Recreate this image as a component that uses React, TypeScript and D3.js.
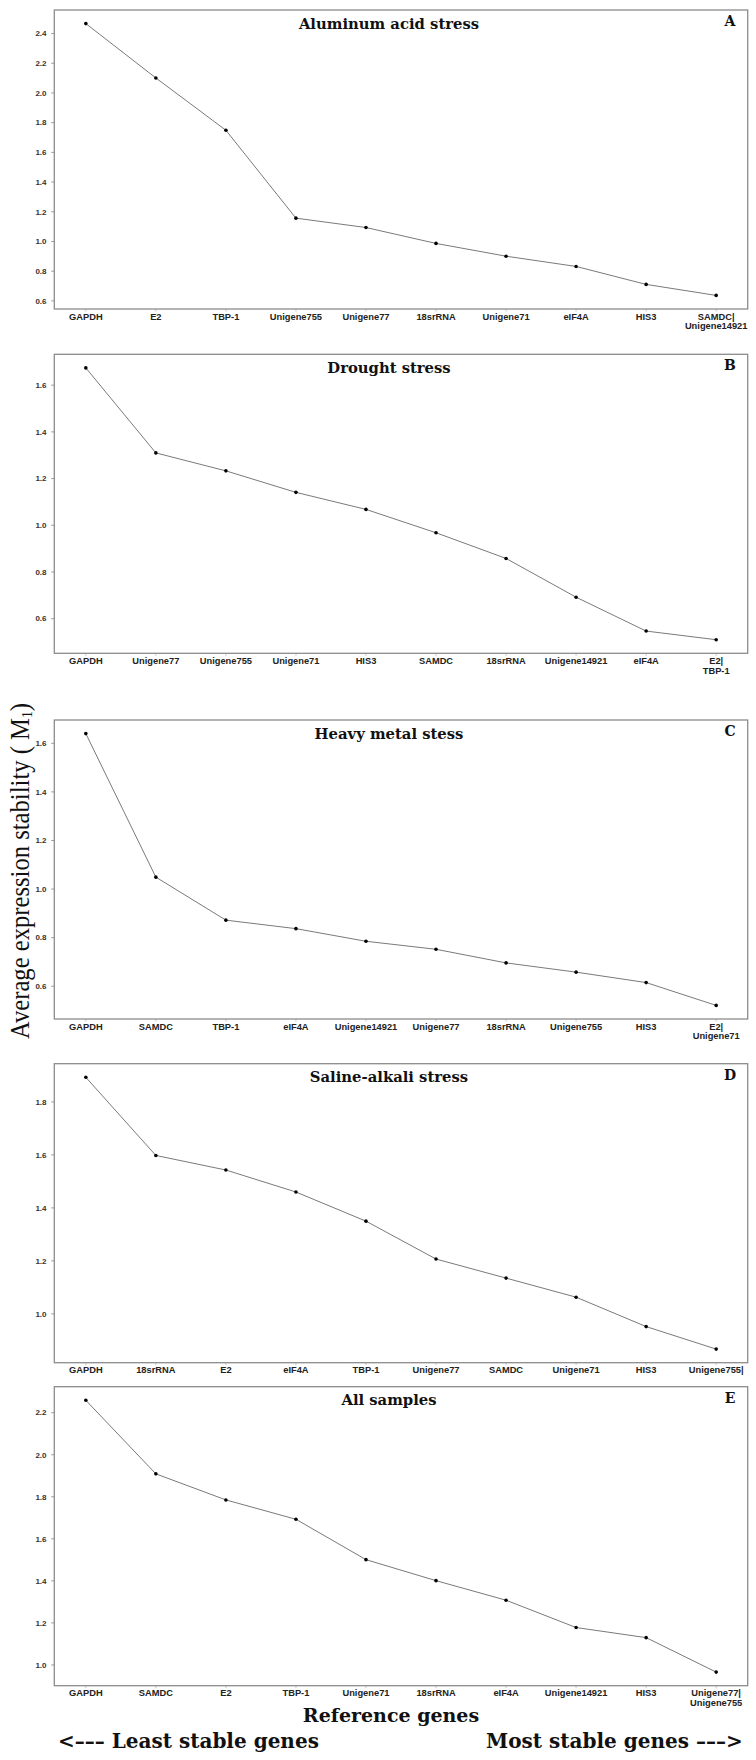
import * as d3 from 'd3';

// Reference gene ranking (geNorm M values), one panel per stress condition
const genesA = ['GAPDH', 'E2', 'TBP-1', 'Unigene755', 'Unigene77', '18srRNA', 'Unigene71', 'eIF4A', 'HIS3', 'SAMDC|\nUnigene14921'];
const valuesA = [2.467, 2.101, 1.749, 1.157, 1.094, 0.987, 0.901, 0.832, 0.711, 0.637];
const ticksA = [0.6, 0.8, 1.0, 1.2, 1.4, 1.6, 1.8, 2.0, 2.2, 2.4];

const genesB = ['GAPDH', 'Unigene77', 'Unigene755', 'Unigene71', 'HIS3', 'SAMDC', '18srRNA', 'Unigene14921', 'eIF4A', 'E2|\nTBP-1'];
const valuesB = [1.674, 1.31, 1.233, 1.141, 1.068, 0.968, 0.858, 0.692, 0.547, 0.51];
const ticksB = [0.6, 0.8, 1.0, 1.2, 1.4, 1.6];

const genesC = ['GAPDH', 'SAMDC', 'TBP-1', 'eIF4A', 'Unigene14921', 'Unigene77', '18srRNA', 'Unigene755', 'HIS3', 'E2|\nUnigene71'];
const valuesC = [1.64, 1.049, 0.872, 0.837, 0.785, 0.752, 0.696, 0.658, 0.615, 0.521];
const ticksC = [0.6, 0.8, 1.0, 1.2, 1.4, 1.6];

const genesD = ['GAPDH', '18srRNA', 'E2', 'eIF4A', 'TBP-1', 'Unigene77', 'SAMDC', 'Unigene71', 'HIS3', 'Unigene755|'];
const valuesD = [1.893, 1.598, 1.543, 1.46, 1.35, 1.207, 1.135, 1.063, 0.952, 0.867];
const ticksD = [1.0, 1.2, 1.4, 1.6, 1.8];

const genesE = ['GAPDH', 'SAMDC', 'E2', 'TBP-1', 'Unigene71', '18srRNA', 'eIF4A', 'Unigene14921', 'HIS3', 'Unigene77|\nUnigene755'];
const valuesE = [2.259, 1.909, 1.785, 1.693, 1.501, 1.401, 1.308, 1.178, 1.13, 0.966];
const ticksE = [1.0, 1.2, 1.4, 1.6, 1.8, 2.0, 2.2];

const titles = ['Aluminum acid stress', 'Drought stress', 'Heavy metal stess', 'Saline-alkali stress', 'All samples'];
const letters = ['A', 'B', 'C', 'D', 'E'];

const panels = [
  { genes: genesA, values: valuesA, ticks: ticksA },
  { genes: genesB, values: valuesB, ticks: ticksB },
  { genes: genesC, values: valuesC, ticks: ticksC },
  { genes: genesD, values: valuesD, ticks: ticksD },
  { genes: genesE, values: valuesE, ticks: ticksE },
];

const W = 756;
const H = 1760;
const left = 54.3;
const right = 747.7;
const panelH = 299;
const panelTops = [10, 354.3, 720, 1063.7, 1386.7];

const serif = '"DejaVu Serif", "Liberation Serif", serif';
const sans = '"Liberation Sans", Arial, sans-serif';
const fmt = d3.format('.1f');

function Panel({ idx }: { idx: number }) {
  const { genes, values, ticks } = panels[idx];
  const top = panelTops[idx];
  const bottom = top + panelH;

  const x = d3.scalePoint<string>().domain(genes).range([left, right]).padding(0.45);
  // ggplot style 5% expansion of the data range
  const [lo, hi] = d3.extent(values) as [number, number];
  const pad = (hi - lo) * 0.05;
  const y = d3.scaleLinear().domain([lo - pad, hi + pad]).range([bottom, top]);

  const pts = genes.map((g, i) => [x(g) as number, y(values[i])] as [number, number]);
  const line = d3.line()(pts) || '';

  return (
    <g>
      {ticks.map((t) => (
        <g key={t}>
          <line x1={left - 3} x2={left} y1={y(t)} y2={y(t)} stroke="#999" strokeWidth={1} />
          <text x={46.5} y={y(t) + 2.8} textAnchor="end" fontFamily={sans} fontWeight="bold" fontSize={8} fill="#333">
            {fmt(t)}
          </text>
        </g>
      ))}
      {genes.map((g) => (
        <g key={g}>
          <line x1={x(g)} x2={x(g)} y1={bottom} y2={bottom + 2.5} stroke="#bbb" strokeWidth={0.8} />
          <text textAnchor="middle" fontFamily={sans} fontWeight="bold" fontSize={9.3} fill="#222">
            {g.split('\n').map((part, k) => (
              <tspan key={k} x={x(g)} y={bottom + 10.5 + k * 9.7}>
                {part}
              </tspan>
            ))}
          </text>
        </g>
      ))}
      <path d={line} fill="none" stroke="#7a7a7a" strokeWidth={1} />
      {pts.map(([px, py], i) => (
        <circle key={i} cx={px} cy={py} r={1.8} fill="#000" />
      ))}
      <rect x={left} y={top} width={right - left} height={panelH} fill="none" stroke="#8c8c8c" strokeWidth={1.3} />
      <text x={389} y={top + 18.5} textAnchor="middle" fontFamily={serif} fontWeight="bold" fontSize={14.8} fill="#111">
        {titles[idx]}
      </text>
      <text x={730} y={top + 16} textAnchor="middle" fontFamily={serif} fontWeight="bold" fontSize={14} fill="#111">
        {letters[idx]}
      </text>
    </g>
  );
}

export default function App() {
  return (
    <div style={{ position: 'absolute', left: 0, top: 0 }}>
      <svg width={W} height={H} style={{ display: 'block', background: '#fff' }}>
        {panels.map((_, i) => (
          <Panel key={i} idx={i} />
        ))}
        <text
          transform="translate(29,871) rotate(-90)"
          textAnchor="middle"
          fontFamily='"Liberation Serif", serif'
          fontSize={27}
          fill="#111"
          textLength={336}
          lengthAdjust="spacingAndGlyphs"
        >
          Average expression stability ( M<tspan fontSize={15} dy={3}>1</tspan>
          <tspan dy={-3}>)</tspan>
        </text>
        <text x={391} y={1721.7} textAnchor="middle" fontFamily={serif} fontWeight="bold" fontSize={19} fill="#111">
          Reference genes
        </text>
        <text x={58} y={1748.3} textAnchor="start" fontFamily={serif} fontWeight="bold" fontSize={20} fill="#111">
          {'<––– Least stable genes'}
        </text>
        <text x={742.7} y={1748.3} textAnchor="end" fontFamily={serif} fontWeight="bold" fontSize={20} fill="#111">
          {'Most stable genes –––>'}
        </text>
      </svg>
    </div>
  );
}
